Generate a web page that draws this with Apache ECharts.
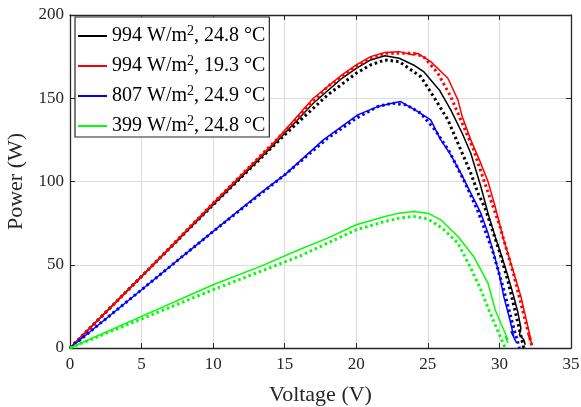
<!DOCTYPE html>
<html>
<head>
<meta charset="utf-8">
<script src="https://cdn.jsdelivr.net/npm/echarts@6/dist/echarts.min.js"></script>
<style>
html, body { margin: 0; padding: 0; background: #fff; }
#chart { width: 581px; height: 407px; }
</style>
</head>
<body>
<div id="chart"></div>
<script>
// legend labels
var names = ['994 W/m2, 24.8 °C', '994 W/m2, 19.3 °C', '807 W/m2, 24.9 °C', '399 W/m2, 24.8 °C'];
var colors = ['#000000', '#ff0000', '#0000ff', '#00ff00'];

// measured P-V curves [V, P]
var blackMeas = [[0,0],[5,43],[10,86],[14,120],[17,147],[19,162],[20,168],[21,173],[22,175.5],[23,174],[24,170],[24.7,166],[25.8,155],[26.6,143],[27.4,129],[28,117],[28.7,97],[29.2,81],[29.7,67],[30.2,54],[30.6,43],[31,31],[31.3,21],[31.5,12],[31.4,8],[31.7,5],[31.8,2]];
var redMeas = [[0,0],[5,43],[10,87],[14,121],[17,150],[19,164],[20,170],[21,175],[22,177.5],[23,178],[24,176],[24.3,177],[25.2,172],[26.4,162],[27.1,149],[27.4,139],[28,125],[28.6,113],[29.2,100],[29.7,85],[30.3,65],[30.9,48],[31.5,31],[31.9,16],[32.2,5],[32,8],[32.3,2]];
var blueMeas = [[0,0],[5,35],[10,70],[13.3,93],[15,104],[17.7,125],[20.1,140],[21.5,145],[22.5,147],[23.1,148],[24.3,142],[25.2,137],[25.9,125],[26.6,116],[27.3,105],[28,93],[28.7,81],[29.2,69],[29.6,57],[30,44],[30.3,31],[30.7,18],[31,7],[30.8,10],[31.2,3]];
var greenMeas = [[0,0],[5,19],[10,38],[13.3,49],[16,59],[18,66],[20,74],[22,79],[23,81],[24,82],[25,81],[25.9,77],[27.1,67],[28.2,55],[29.2,39],[29.7,23],[30.3,11],[30.6,5],[30.4,7],[30.6,3]];

// model P-V curves [V, P]
var blackModel = [[0,0],[5,43],[10,86],[15,128],[18,152],[20,165],[21,170],[22,173],[23,172],[24,166],[24.5,163],[25.4,151],[26.4,137],[27.3,119],[28,105],[28.5,93],[29,84],[30,58],[30.6,40],[31.1,22],[31.7,0]];
var redModel = [[0,0],[5,43],[10,87],[15,130],[18,157],[20,169],[21,174],[22,177],[23,177],[24,177],[24.7,175],[25.7,165],[26.6,151],[27.5,133],[28.2,119],[28.9,101],[30,74],[31,44],[31.7,20],[32.3,0]];
var blueModel = [[0,0],[5,35],[10,70],[15,104],[18,126],[20,138],[21.5,145],[22.5,147],[23.5,146],[24.5,141],[25.5,131],[26.5,118],[27.5,101],[28.5,82],[29.5,59],[30.3,35],[31,12],[31.4,0]];
var greenModel = [[0,0],[5,17.5],[10,35],[13.3,46],[16,55],[18,63],[20,71],[22,76],[23,78],[24,79],[25,77.5],[26,72],[27.1,63],[28,48],[28.7,35],[29.3,22],[29.8,12],[30.1,6],[30.4,0]];

var measured = [blackMeas, redMeas, blueMeas, greenMeas];
var models = [blackModel, redModel, blueModel, greenModel];

var font = 'Liberation Serif';
var myChart = echarts.init(document.getElementById('chart'));

var series = [];
for (var i = 0; i < 4; i++) {
    series.push({
        name: names[i],
        type: 'line',
        data: measured[i],
        symbol: 'none',
        lineStyle: { color: colors[i], width: 1.5 },
        itemStyle: { color: colors[i] }
    });
    series.push({
        name: 'model ' + i,
        type: 'line',
        data: models[i],
        symbol: 'none',
        lineStyle: { color: colors[i], width: 3, type: [2.5, 3] },
        itemStyle: { color: colors[i] }
    });
}

// "W/m2" -> W/m with superscript 2
var legendText = {};
names.forEach(function(n) {
    var parts = n.split('m2');
    legendText[n] = '{n|' + parts[0] + 'm}{sup|2}{n|' + parts[1] + '}';
});

var option = {
    animation: false,
    grid: { left: 70, right: 10, top: 15, bottom: 59, outerBoundsMode: 'none' },
    legend: {
        data: names,
        orient: 'vertical',
        left: 75,
        top: 17,
        backgroundColor: '#fff',
        borderColor: '#262626',
        borderWidth: 1.2,
        borderRadius: 0,
        padding: [7, 4, 1, 3],
        itemGap: 8,
        itemWidth: 29,
        itemHeight: 2,
        icon: 'rect',
        formatter: function(name) { return legendText[name]; },
        textStyle: {
            rich: {
                n: { fontFamily: font, fontSize: 20, color: '#000', lineHeight: 24 },
                sup: { fontFamily: font, fontSize: 14, color: '#000', verticalAlign: 'top', lineHeight: 14 }
            }
        }
    },
    xAxis: [{
        type: 'value',
        min: 0, max: 35, interval: 5,
        name: 'Voltage (V)',
        nameLocation: 'middle',
        nameGap: 36,
        nameTextStyle: { fontFamily: font, fontSize: 22, color: '#262626' },
        axisLine: { lineStyle: { color: '#262626', width: 1.3 } },
        axisTick: { inside: true, length: 5, lineStyle: { color: '#262626' } },
        axisLabel: { fontFamily: font, fontSize: 17, color: '#262626', margin: 8 },
        splitLine: { lineStyle: { color: '#dcdcdc', width: 1 } }
    }, {
        type: 'value',
        position: 'top',
        min: 0, max: 35, interval: 5,
        axisLine: { show: true, onZero: false, lineStyle: { color: '#262626', width: 1.3 } },
        axisTick: { inside: true, length: 5, lineStyle: { color: '#262626' } },
        axisLabel: { show: false },
        splitLine: { show: false }
    }],
    yAxis: [{
        type: 'value',
        min: 0, max: 200, interval: 50,
        name: 'Power (W)',
        nameLocation: 'middle',
        nameGap: 42,
        nameTextStyle: { fontFamily: font, fontSize: 22, color: '#262626' },
        axisLine: { show: true, lineStyle: { color: '#262626', width: 1.3 } },
        axisTick: { show: true, inside: true, length: 5, lineStyle: { color: '#262626' } },
        axisLabel: { fontFamily: font, fontSize: 17, color: '#262626', margin: 6 },
        splitLine: { lineStyle: { color: '#dcdcdc', width: 1 } }
    }, {
        type: 'value',
        position: 'right',
        min: 0, max: 200, interval: 50,
        axisLine: { show: true, onZero: false, lineStyle: { color: '#262626', width: 1.3 } },
        axisTick: { show: true, inside: true, length: 5, lineStyle: { color: '#262626' } },
        axisLabel: { show: false },
        splitLine: { show: false }
    }],
    series: series
};

myChart.setOption(option);
</script>
</body>
</html>
